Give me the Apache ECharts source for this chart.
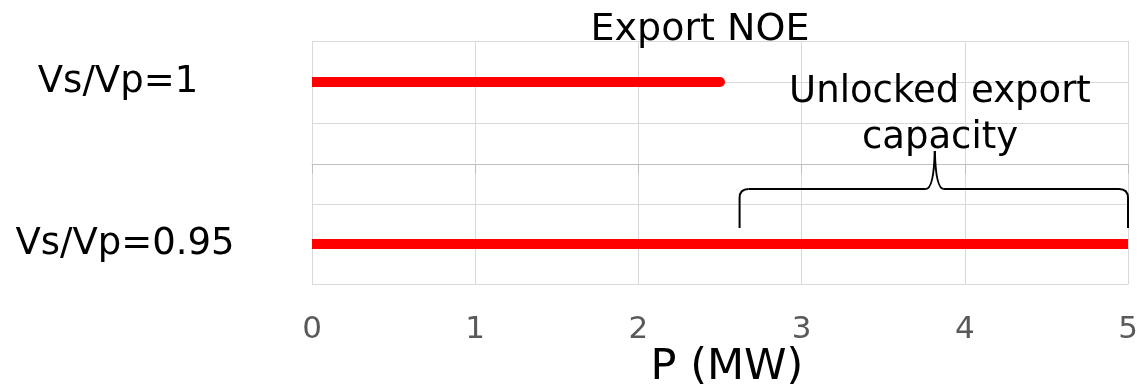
<!DOCTYPE html>
<html>
<head>
<meta charset="utf-8">
<script src="https://cdn.jsdelivr.net/npm/echarts@6/dist/echarts.min.js"></script>
<style>html,body{margin:0;padding:0;background:#fff}#c{width:1148px;height:390px}</style>
</head>
<body>
<div id="c"></div>
<script>
// ---- data ----
const categories = ['Vs/Vp=1', 'Vs/Vp=0.95'];
const exportStart = [0, 0];        // P (MW) where each bar starts
const exportEnd = [2.5, 5];        // P (MW) export limit for each case
const xTickLabels = ['0', '1', '2', '3', '4', '5'];
const chartTitle = 'Export NOE';
const xAxisName = 'P (MW)';
const braceRange = [2.62, 5];      // P (MW) span of "unlocked export capacity"
const braceText = 'Unlocked export\ncapacity';

// ---- layout helpers ----
const FONT = '"DejaVu Sans", Verdana, sans-serif';
const rowLevel = [2, 1];           // row position in each panel's 0..3 scale
const GRID_L = 312, GRID_R = 20;
const X_MAX = 5;

const chart = echarts.init(document.getElementById('c'), null, {renderer: 'canvas'});

function xAxisCommon(idx, showLabels) {
  return {
    type: 'value', gridIndex: idx, min: 0, max: X_MAX, interval: 1,
    axisLine: {show: true, lineStyle: {color: idx === 0 ? '#bfbfbf' : '#d9d9d9', width: 1}},
    axisTick: {show: idx === 0, length: 10, lineStyle: {color: '#bfbfbf'}},
    splitLine: {show: true, lineStyle: {color: '#d9d9d9', width: 1}},
    axisLabel: showLabels ? {
      show: true, fontSize: 31, color: '#595959', fontFamily: FONT, margin: 30,
      formatter: v => xTickLabels[Math.round(v)] ?? ''
    } : {show: false}
  };
}
function yAxisCommon(idx) {
  return {
    type: 'value', gridIndex: idx, min: 0, max: 3, interval: 1,
    axisLine: {show: false}, axisTick: {show: false},
    splitLine: {show: true, lineStyle: {color: '#d9d9d9', width: 1}},
    axisLabel: {
      show: true, fontSize: 37, color: '#000', fontFamily: FONT,
      align: 'center', margin: idx === 0 ? 194 : 187,
      formatter: v => (v === rowLevel[idx] ? categories[idx] : '')
    }
  };
}

const xAxes = [xAxisCommon(0, false), xAxisCommon(1, true)];
xAxes[1].name = xAxisName;
xAxes[1].nameLocation = 'middle';
xAxes[1].nameGap = 59;
xAxes[1].nameTextStyle = {fontSize: 43, color: '#000', fontFamily: FONT, padding: [0, 0, 0, 14]};

const option = {
  animation: false,
  backgroundColor: '#fff',
  title: {
    text: chartTitle, left: 695, top: 6, textAlign: 'center',
    textStyle: {fontSize: 38, fontWeight: 'normal', color: '#000', fontFamily: FONT}
  },
  grid: [
    {left: GRID_L, right: GRID_R, top: 41, height: 123},
    {left: GRID_L, right: GRID_R, top: 164, height: 123}
  ],
  xAxis: xAxes,
  yAxis: [yAxisCommon(0), yAxisCommon(1)],
  series: categories.map((name, i) => ({
    name: name, type: 'line', xAxisIndex: i, yAxisIndex: i,
    symbol: 'none', showSymbol: true, clip: true,
    lineStyle: {color: '#ff0000', width: 10, cap: 'butt'},
    itemStyle: {color: '#ff0000'},
    data: [
      [exportStart[i], rowLevel[i]],
      exportEnd[i] < X_MAX
        ? {value: [exportEnd[i], rowLevel[i]], symbol: 'circle', symbolSize: 10}
        : [exportEnd[i], rowLevel[i]]
    ],
    z: 5
  }))
};
chart.setOption(option);

// ---- brace annotation anchored to the data scale ----
const px = v => chart.convertToPixel({xAxisIndex: 1, yAxisIndex: 1}, [v, 0])[0];
const x0 = px(braceRange[0]), x1 = px(braceRange[1]);
const xm = px((braceRange[0] + braceRange[1]) / 2) + 1;
const yTop = 189, yBot = 228, yTip = 151, r = 9;
const stroke = {fill: null, stroke: '#000', lineWidth: 2};
const braceParts = [
  {type: 'line', shape: {x1: x0, y1: yBot, x2: x0, y2: yTop + r}},
  {type: 'bezierCurve', shape: {x1: x0, y1: yTop + r, cpx1: x0, cpy1: yTop, x2: x0 + r, y2: yTop}},
  {type: 'line', shape: {x1: x0 + r, y1: yTop, x2: xm - 9, y2: yTop}},
  {type: 'bezierCurve', shape: {x1: xm - 9, y1: yTop, cpx1: xm - 1, cpy1: yTop, x2: xm, y2: yTip}},
  {type: 'bezierCurve', shape: {x1: xm, y1: yTip, cpx1: xm + 1, cpy1: yTop, x2: xm + 9, y2: yTop}},
  {type: 'line', shape: {x1: xm + 9, y1: yTop, x2: x1 - r, y2: yTop}},
  {type: 'bezierCurve', shape: {x1: x1 - r, y1: yTop, cpx1: x1, cpy1: yTop, x2: x1, y2: yTop + r}},
  {type: 'line', shape: {x1: x1, y1: yTop + r, x2: x1, y2: yBot}}
].map(p => Object.assign(p, {style: stroke, z: 10, silent: true}));

chart.setOption({
  graphic: braceParts.concat([
    {type: 'text', x: 940, y: 69, z: 10, silent: true,
     style: {text: braceText, font: '37px ' + FONT, fill: '#000', textAlign: 'center', lineHeight: 46}}
  ])
});
</script>
</body>
</html>
